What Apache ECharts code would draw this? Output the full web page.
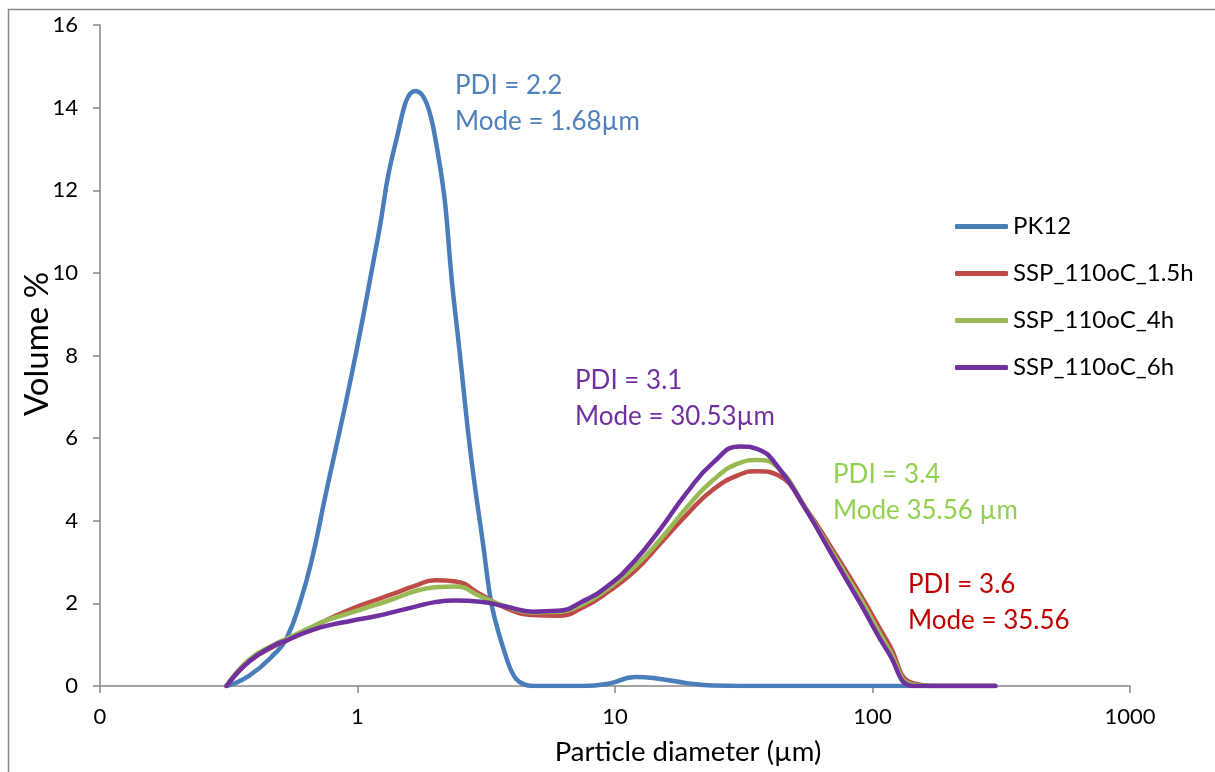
<!DOCTYPE html>
<html>
<head>
<meta charset="utf-8">
<title>Particle size distribution</title>
<script src="https://cdn.jsdelivr.net/npm/echarts@6/dist/echarts.min.js"></script>
<style>
  html, body { margin: 0; padding: 0; background: #ffffff; }
  #chart { width: 1215px; height: 772px; }
</style>
</head>
<body>
<div id="chart"></div>
<script>
// Particle diameters (µm) shared by all series
const diameters = [0.31, 0.38, 0.48, 0.53, 0.6, 0.67, 0.75, 0.95, 1.2, 1.4, 1.68, 2.0, 2.4, 3.0, 3.8, 4.8, 6.0, 7.5, 9.5, 12, 15, 19, 24, 30.53, 35.56, 43, 55, 70, 90, 115, 145, 190, 240, 300];

// Volume % per size class
const pk12 = [0, 0.25, 0.8, 1.15, 2.05, 3.15, 4.6, 7.55, 10.85, 13.1, 14.4, 13.3, 9.0, 3.9, 0.65, 0, 0, 0, 0.06, 0.22, 0.17, 0.07, 0.01, 0, 0, 0, 0, 0, 0, 0, 0, 0, 0, 0];
const ssp15h = [0, 0.6, 0.98, 1.1, 1.28, 1.43, 1.58, 1.87, 2.1, 2.25, 2.43, 2.56, 2.53, 2.22, 1.88, 1.72, 1.7, 1.9, 2.3, 2.8, 3.45, 4.15, 4.75, 5.12, 5.2, 5.1, 4.3, 3.3, 2.2, 1.05, 0.06, 0, 0, 0];
const ssp4h = [0, 0.64, 1.02, 1.14, 1.3, 1.44, 1.58, 1.78, 1.98, 2.12, 2.3, 2.39, 2.41, 2.17, 1.92, 1.78, 1.8, 1.98, 2.38, 2.9, 3.55, 4.32, 4.98, 5.4, 5.47, 5.28, 4.3, 3.22, 2.1, 0.93, 0.03, 0, 0, 0];
const ssp6h = [0, 0.6, 1.0, 1.1, 1.25, 1.36, 1.45, 1.58, 1.7, 1.8, 1.92, 2.03, 2.07, 2.04, 1.92, 1.8, 1.82, 2.05, 2.45, 3.05, 3.8, 4.68, 5.4, 5.8, 5.74, 5.3, 4.28, 3.15, 1.98, 0.82, 0, 0, 0, 0];

const seriesNames = ['PK12', 'SSP_110oC_1.5h', 'SSP_110oC_4h', 'SSP_110oC_6h'];
const seriesColors = ['#4A7EBB', '#BE4B48', '#98B954', '#7030A0'];
const seriesValues = [pk12, ssp15h, ssp4h, ssp6h];

const xTickLabels = ['0', '1', '10', '100', '1000'];
const xTitle = 'Particle diameter (µm)';
const yTitle = 'Volume %';

// PDI / mode notes: [line 1, line 2, colour, left, centre of first line]
const notes = [
  ['PDI = 2.2', 'Mode = 1.68µm', '#4F81BD', 455, 88],
  ['PDI = 3.1', 'Mode = 30.53µm', '#7030A0', 575, 383],
  ['PDI = 3.4', 'Mode 35.56 µm', '#92D050', 833, 477],
  ['PDI = 3.6', 'Mode = 35.56', '#C00000', 908, 587]
];

const FONT = 'Lato, "Open Sans", sans-serif';
const axisGray = '#868686';

const chart = echarts.init(document.getElementById('chart'), null, { renderer: 'canvas' });

const series = seriesNames.map((name, k) => ({
  name: name,
  type: 'line',
  smooth: 0.5,
  showSymbol: false,
  symbol: 'none',
  color: seriesColors[k],
  lineStyle: { width: 4.5, color: seriesColors[k], cap: 'round', join: 'round' },
  data: diameters.map((d, i) => [d, seriesValues[k][i]]),
  z: 2 + k
}));

const graphics = [
  {
    type: 'rect',
    shape: { x: 8.5, y: 9.5, width: 1400, height: 900 },
    style: { fill: 'none', stroke: '#898989', lineWidth: 1.5 },
    silent: true
  },
  {
    type: 'text',
    x: 688, y: 752,
    style: { text: xTitle, fill: '#000', font: '27.5px ' + FONT, align: 'center', verticalAlign: 'middle' }
  },
  {
    type: 'text',
    x: 37, y: 344,
    rotation: Math.PI / 2,
    style: { text: yTitle, fill: '#000', font: '33px ' + FONT, align: 'center', verticalAlign: 'middle' }
  }
];
notes.forEach(n => {
  [n[0], n[1]].forEach((txt, j) => {
    graphics.push({
      type: 'text',
      left: n[3],
      top: n[4] + j * 36 - 15,
      style: { text: txt, fill: n[2], font: '26px ' + FONT }
    });
  });
});

chart.setOption({
  animation: false,
  backgroundColor: '#ffffff',
  textStyle: { fontFamily: FONT },
  grid: { left: 100, right: 85, top: 25, bottom: 86, containLabel: false },
  legend: {
    orient: 'vertical',
    left: 950,
    top: 209,
    itemWidth: 53,
    itemHeight: 5,
    itemGap: 22,
    icon: 'roundRect',
    data: seriesNames,
    textStyle: { fontSize: 24, lineHeight: 25, color: '#000', fontFamily: FONT, padding: [0, 0, 0, 0] }
  },
  xAxis: {
    type: 'log',
    logBase: 10,
    min: 0.1,
    max: 1000,
    axisLine: { lineStyle: { color: axisGray, width: 1.5 } },
    axisTick: { show: true, inside: false, length: 7, lineStyle: { color: axisGray, width: 1.5 } },
    minorTick: { show: false },
    splitLine: { show: false },
    axisLabel: {
      fontSize: 22,
      color: '#000',
      margin: 20,
      formatter: (v, idx) => xTickLabels[idx] !== undefined ? xTickLabels[idx] : ''
    }
  },
  yAxis: {
    type: 'value',
    min: 0,
    max: 16,
    interval: 2,
    axisLine: { show: true, lineStyle: { color: axisGray, width: 1.5 } },
    axisTick: { show: true, inside: false, length: 7, lineStyle: { color: axisGray, width: 1.5 } },
    splitLine: { show: false },
    axisLabel: { fontSize: 22, color: '#000', margin: 22 }
  },
  graphic: graphics,
  series: series
});
</script>
</body>
</html>
